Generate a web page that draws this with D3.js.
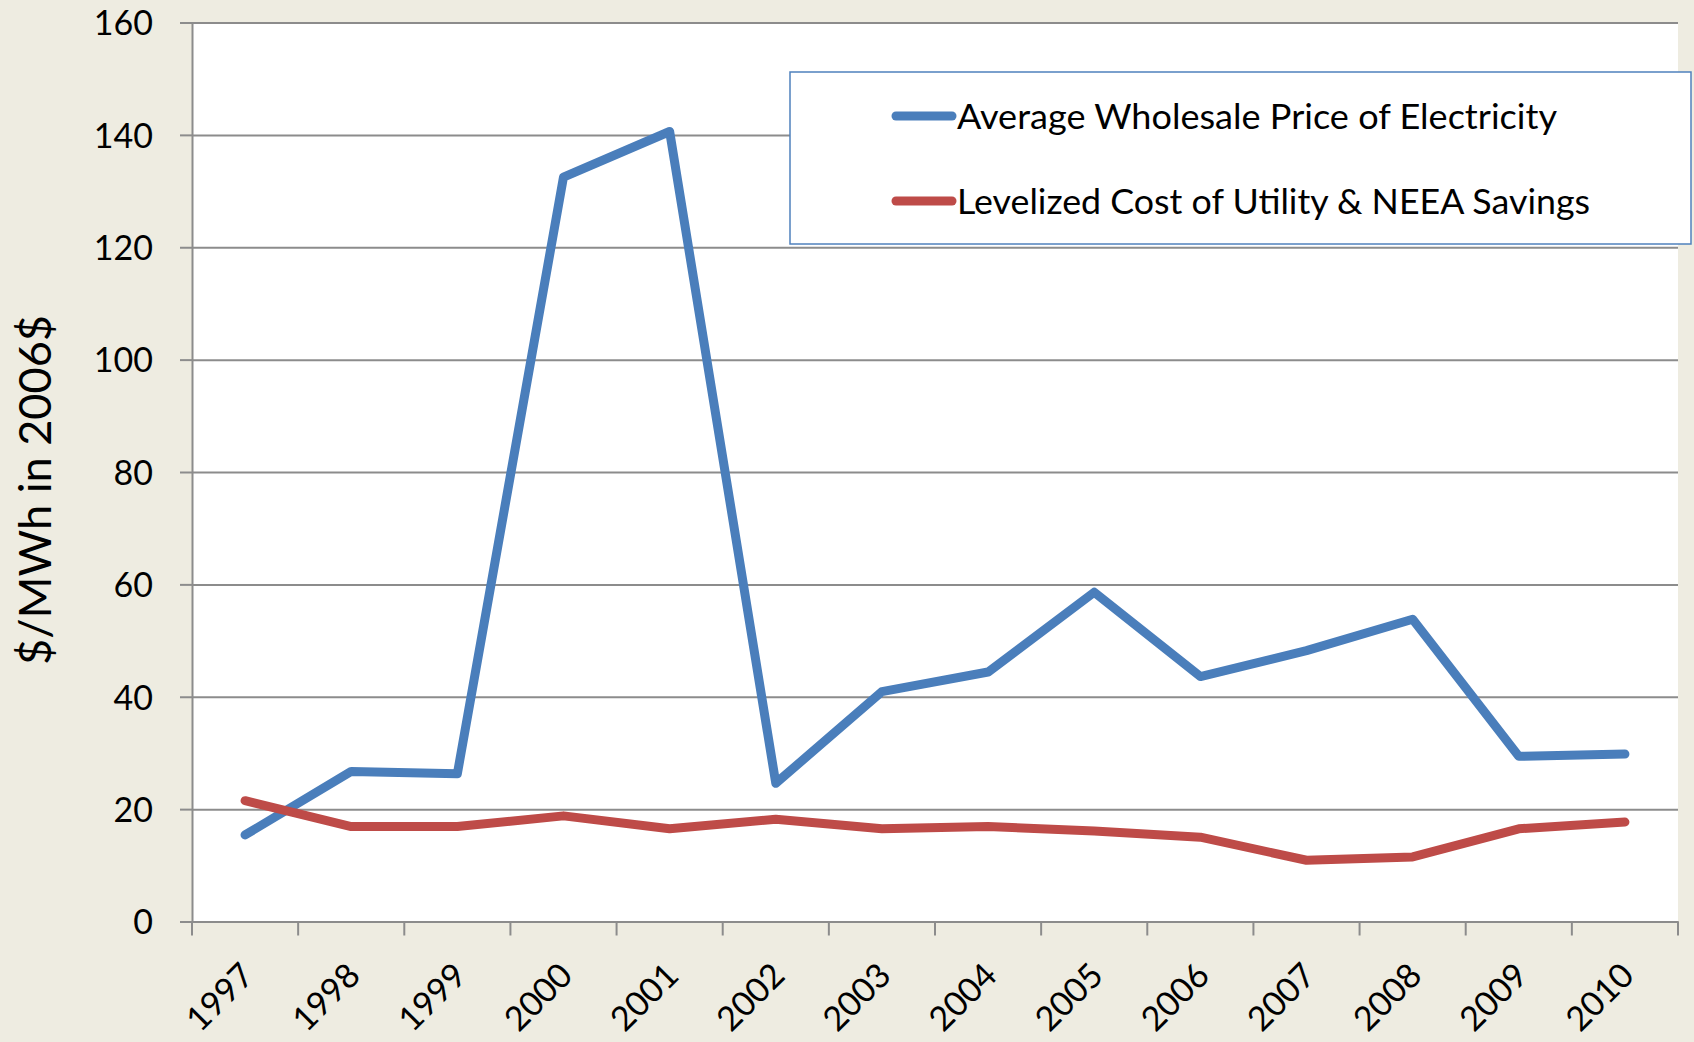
<!DOCTYPE html>
<html>
<head>
<meta charset="utf-8">
<script src="https://cdn.jsdelivr.net/npm/d3@7"></script>
<style>
  html, body { margin: 0; padding: 0; background: #EEECE1; }
  svg { display: block; }
  text { font-family: Lato, "Open Sans", sans-serif; fill: #000; }
</style>
</head>
<body>
<svg id="chart" width="1694" height="1042"></svg>
<script>
const years = ['1997','1998','1999','2000','2001','2002','2003','2004','2005','2006','2007','2008','2009','2010'];
const wholesale = [15.4, 26.7, 26.3, 132.5, 140.6, 24.6, 40.9, 44.4, 58.6, 43.6, 48.2, 53.8, 29.4, 29.8];
const levelized = [21.5, 16.9, 16.9, 18.8, 16.5, 18.2, 16.5, 16.9, 16.1, 15.0, 10.9, 11.5, 16.5, 17.7];
const yTicks = [0, 20, 40, 60, 80, 100, 120, 140, 160];
const seriesNames = ['Average Wholesale Price of Electricity', 'Levelized Cost of Utility & NEEA Savings'];
const seriesColors = ['#4A7EBB', '#BE4B48'];
const yTitle = '$/MWh in 2006$';

(function () {
const W = 1694, H = 1042;
const pL = 192, pR = 1678, pT = 22.5, pB = 921.5;
const svg = d3.select('#chart');

svg.append('rect').attr('width', W).attr('height', H).attr('fill', '#EEECE1');
svg.append('rect').attr('x', pL).attr('y', pT).attr('width', pR - pL).attr('height', pB - pT).attr('fill', '#fff');

const x = d3.scaleBand().domain(years).range([pL, pR]);
const y = d3.scaleLinear().domain([0, 160]).range([pB, pT]);
const cx = d => x(d) + x.bandwidth() / 2;

// gridlines
const grid = svg.append('g').attr('transform', `translate(${pL},0)`)
  .call(d3.axisLeft(y).tickValues(yTicks).tickSize(-(pR - pL)).tickFormat(''));
grid.select('.domain').remove();
grid.selectAll('line').attr('stroke', '#8C8C8C').attr('stroke-width', 2);

// y axis with labels
const yAx = svg.append('g').attr('transform', `translate(${pL},0)`)
  .call(d3.axisLeft(y).tickValues(yTicks).tickSize(12).tickPadding(27).tickFormat(d3.format('d')));
yAx.select('.domain').attr('stroke', '#8C8C8C').attr('stroke-width', 2);
yAx.selectAll('line').attr('stroke', '#8C8C8C').attr('stroke-width', 2);
yAx.selectAll('text').attr('font-size', 34).attr('font-family', 'Lato, sans-serif').attr('dy', '0.36em');

// x axis
const xAx = svg.append('g').attr('transform', `translate(0,${pB})`)
  .call(d3.axisBottom(x).tickSize(0).tickPadding(0));
xAx.select('.domain').attr('stroke', '#8C8C8C').attr('stroke-width', 2);
xAx.selectAll('.tick text')
  .attr('font-size', 34).attr('font-family', 'Lato, sans-serif')
  .attr('text-anchor', 'end')
  .attr('dy', 0).attr('y', 0)
  .attr('transform', 'translate(11,56) rotate(-45)');
// boundary ticks
const bounds = years.map(d => x(d)).concat([x(years[years.length - 1]) + x.bandwidth()]);
xAx.selectAll('line.bt').data(bounds).enter().append('line')
  .attr('class', 'bt')
  .attr('x1', d => d).attr('x2', d => d).attr('y1', 0).attr('y2', 14)
  .attr('stroke', '#8C8C8C').attr('stroke-width', 2);

// y title
svg.append('text')
  .attr('transform', `translate(51,490) rotate(-90)`)
  .attr('text-anchor', 'middle')
  .attr('font-size', 45)
  .attr('textLength', 350).attr('lengthAdjust', 'spacingAndGlyphs')
  .text(yTitle);

// lines
const line = d3.line().x((d, i) => cx(years[i])).y(d => y(d));
[wholesale, levelized].forEach((s, k) => {
  svg.append('path').datum(s)
    .attr('d', line)
    .attr('fill', 'none')
    .attr('stroke', seriesColors[k])
    .attr('stroke-width', 9)
    .attr('stroke-linejoin', 'round')
    .attr('stroke-linecap', 'round');
});

// legend
const lg = svg.append('g');
lg.append('rect').attr('x', 790).attr('y', 72).attr('width', 901).attr('height', 172)
  .attr('fill', '#fff').attr('stroke', '#4F81BD').attr('stroke-width', 1.5);
const lys = [116, 201];
const textLens = [600, 633];
seriesNames.forEach((n, k) => {
  lg.append('line').attr('x1', 896).attr('x2', 952).attr('y1', lys[k]).attr('y2', lys[k])
    .attr('stroke', seriesColors[k]).attr('stroke-width', 9).attr('stroke-linecap', 'round');
  lg.append('text').attr('x', 957).attr('y', lys[k]).attr('dy', '0.36em')
    .attr('font-size', 35)
    .attr('textLength', textLens[k]).attr('lengthAdjust', 'spacingAndGlyphs')
    .text(n);
});
})();
</script>
</body>
</html>
